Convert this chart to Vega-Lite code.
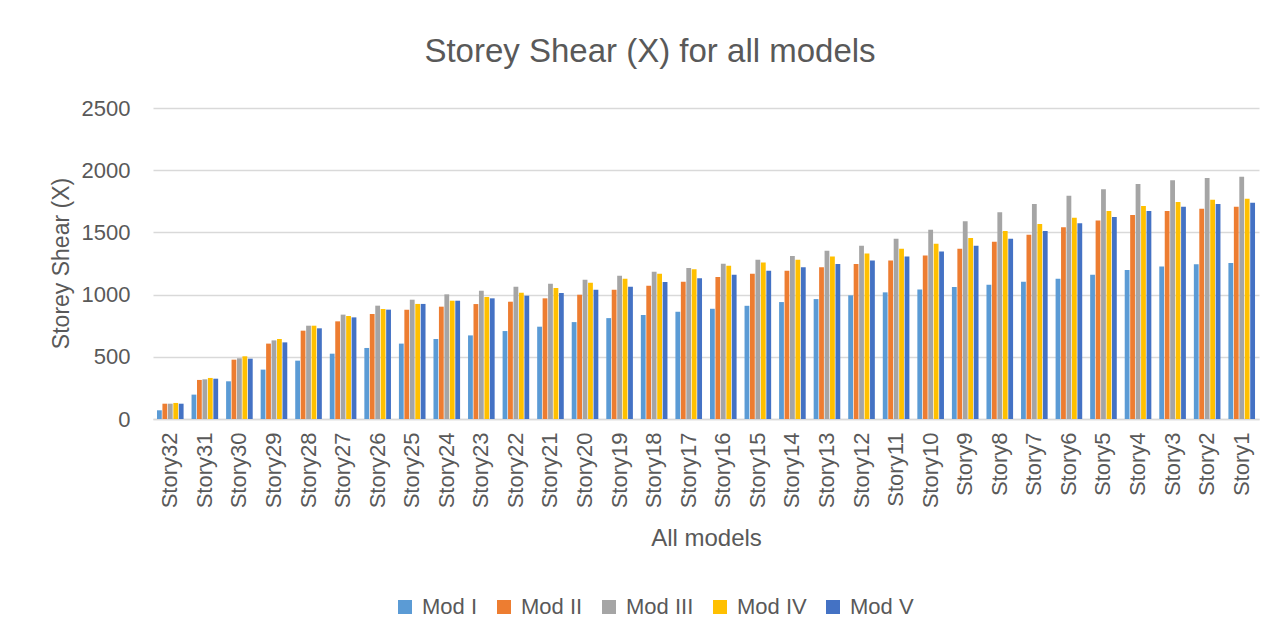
{
  "$schema": "https://vega.github.io/schema/vega-lite/v6.json",
  "autosize": {"type": "none"},
  "padding": {"left": 153, "top": 108, "right": 19, "bottom": 222},
  "width": 1106,
  "height": 311,
  "background": "white",
  "title": {
    "text": "Storey Shear (X) for all models",
    "font": "Liberation Sans",
    "fontSize": 33,
    "fontWeight": "normal",
    "color": "#595959",
    "anchor": "middle",
    "baseline": "alphabetic",
    "offset": 2,
    "dx": -56
  },
  "data": {
    "values": [
      {"story": "Story32", "model": "Mod I", "value": 70},
      {"story": "Story32", "model": "Mod II", "value": 123},
      {"story": "Story32", "model": "Mod III", "value": 123},
      {"story": "Story32", "model": "Mod IV", "value": 129},
      {"story": "Story32", "model": "Mod V", "value": 123},
      {"story": "Story31", "model": "Mod I", "value": 196},
      {"story": "Story31", "model": "Mod II", "value": 314},
      {"story": "Story31", "model": "Mod III", "value": 319},
      {"story": "Story31", "model": "Mod IV", "value": 330},
      {"story": "Story31", "model": "Mod V", "value": 324},
      {"story": "Story30", "model": "Mod I", "value": 303},
      {"story": "Story30", "model": "Mod II", "value": 477},
      {"story": "Story30", "model": "Mod III", "value": 488},
      {"story": "Story30", "model": "Mod IV", "value": 504},
      {"story": "Story30", "model": "Mod V", "value": 485},
      {"story": "Story29", "model": "Mod I", "value": 397},
      {"story": "Story29", "model": "Mod II", "value": 606},
      {"story": "Story29", "model": "Mod III", "value": 632},
      {"story": "Story29", "model": "Mod IV", "value": 643},
      {"story": "Story29", "model": "Mod V", "value": 616},
      {"story": "Story28", "model": "Mod I", "value": 469},
      {"story": "Story28", "model": "Mod II", "value": 710},
      {"story": "Story28", "model": "Mod III", "value": 750},
      {"story": "Story28", "model": "Mod IV", "value": 750},
      {"story": "Story28", "model": "Mod V", "value": 729},
      {"story": "Story27", "model": "Mod I", "value": 525},
      {"story": "Story27", "model": "Mod II", "value": 785},
      {"story": "Story27", "model": "Mod III", "value": 839},
      {"story": "Story27", "model": "Mod IV", "value": 828},
      {"story": "Story27", "model": "Mod V", "value": 817},
      {"story": "Story26", "model": "Mod I", "value": 571},
      {"story": "Story26", "model": "Mod II", "value": 844},
      {"story": "Story26", "model": "Mod III", "value": 911},
      {"story": "Story26", "model": "Mod IV", "value": 884},
      {"story": "Story26", "model": "Mod V", "value": 879},
      {"story": "Story25", "model": "Mod I", "value": 606},
      {"story": "Story25", "model": "Mod II", "value": 879},
      {"story": "Story25", "model": "Mod III", "value": 959},
      {"story": "Story25", "model": "Mod IV", "value": 925},
      {"story": "Story25", "model": "Mod V", "value": 925},
      {"story": "Story24", "model": "Mod I", "value": 643},
      {"story": "Story24", "model": "Mod II", "value": 903},
      {"story": "Story24", "model": "Mod III", "value": 1002},
      {"story": "Story24", "model": "Mod IV", "value": 951},
      {"story": "Story24", "model": "Mod V", "value": 951},
      {"story": "Story23", "model": "Mod I", "value": 672},
      {"story": "Story23", "model": "Mod II", "value": 924},
      {"story": "Story23", "model": "Mod III", "value": 1031},
      {"story": "Story23", "model": "Mod IV", "value": 981},
      {"story": "Story23", "model": "Mod V", "value": 970},
      {"story": "Story22", "model": "Mod I", "value": 707},
      {"story": "Story22", "model": "Mod II", "value": 943},
      {"story": "Story22", "model": "Mod III", "value": 1063},
      {"story": "Story22", "model": "Mod IV", "value": 1015},
      {"story": "Story22", "model": "Mod V", "value": 991},
      {"story": "Story21", "model": "Mod I", "value": 742},
      {"story": "Story21", "model": "Mod II", "value": 970},
      {"story": "Story21", "model": "Mod III", "value": 1088},
      {"story": "Story21", "model": "Mod IV", "value": 1053},
      {"story": "Story21", "model": "Mod V", "value": 1013},
      {"story": "Story20", "model": "Mod I", "value": 779},
      {"story": "Story20", "model": "Mod II", "value": 999},
      {"story": "Story20", "model": "Mod III", "value": 1120},
      {"story": "Story20", "model": "Mod IV", "value": 1096},
      {"story": "Story20", "model": "Mod V", "value": 1039},
      {"story": "Story19", "model": "Mod I", "value": 811},
      {"story": "Story19", "model": "Mod II", "value": 1039},
      {"story": "Story19", "model": "Mod III", "value": 1152},
      {"story": "Story19", "model": "Mod IV", "value": 1128},
      {"story": "Story19", "model": "Mod V", "value": 1063},
      {"story": "Story18", "model": "Mod I", "value": 836},
      {"story": "Story18", "model": "Mod II", "value": 1072},
      {"story": "Story18", "model": "Mod III", "value": 1184},
      {"story": "Story18", "model": "Mod IV", "value": 1168},
      {"story": "Story18", "model": "Mod V", "value": 1101},
      {"story": "Story17", "model": "Mod I", "value": 862},
      {"story": "Story17", "model": "Mod II", "value": 1104},
      {"story": "Story17", "model": "Mod III", "value": 1214},
      {"story": "Story17", "model": "Mod IV", "value": 1203},
      {"story": "Story17", "model": "Mod V", "value": 1131},
      {"story": "Story16", "model": "Mod I", "value": 886},
      {"story": "Story16", "model": "Mod II", "value": 1141},
      {"story": "Story16", "model": "Mod III", "value": 1248},
      {"story": "Story16", "model": "Mod IV", "value": 1232},
      {"story": "Story16", "model": "Mod V", "value": 1160},
      {"story": "Story15", "model": "Mod I", "value": 910},
      {"story": "Story15", "model": "Mod II", "value": 1168},
      {"story": "Story15", "model": "Mod III", "value": 1280},
      {"story": "Story15", "model": "Mod IV", "value": 1259},
      {"story": "Story15", "model": "Mod V", "value": 1192},
      {"story": "Story14", "model": "Mod I", "value": 940},
      {"story": "Story14", "model": "Mod II", "value": 1192},
      {"story": "Story14", "model": "Mod III", "value": 1310},
      {"story": "Story14", "model": "Mod IV", "value": 1280},
      {"story": "Story14", "model": "Mod V", "value": 1219},
      {"story": "Story13", "model": "Mod I", "value": 964},
      {"story": "Story13", "model": "Mod II", "value": 1219},
      {"story": "Story13", "model": "Mod III", "value": 1353},
      {"story": "Story13", "model": "Mod IV", "value": 1307},
      {"story": "Story13", "model": "Mod V", "value": 1246},
      {"story": "Story12", "model": "Mod I", "value": 994},
      {"story": "Story12", "model": "Mod II", "value": 1246},
      {"story": "Story12", "model": "Mod III", "value": 1393},
      {"story": "Story12", "model": "Mod IV", "value": 1331},
      {"story": "Story12", "model": "Mod V", "value": 1275},
      {"story": "Story11", "model": "Mod I", "value": 1018},
      {"story": "Story11", "model": "Mod II", "value": 1275},
      {"story": "Story11", "model": "Mod III", "value": 1449},
      {"story": "Story11", "model": "Mod IV", "value": 1369},
      {"story": "Story11", "model": "Mod V", "value": 1307},
      {"story": "Story10", "model": "Mod I", "value": 1040},
      {"story": "Story10", "model": "Mod II", "value": 1315},
      {"story": "Story10", "model": "Mod III", "value": 1522},
      {"story": "Story10", "model": "Mod IV", "value": 1409},
      {"story": "Story10", "model": "Mod V", "value": 1347},
      {"story": "Story9", "model": "Mod I", "value": 1061},
      {"story": "Story9", "model": "Mod II", "value": 1369},
      {"story": "Story9", "model": "Mod III", "value": 1589},
      {"story": "Story9", "model": "Mod IV", "value": 1455},
      {"story": "Story9", "model": "Mod V", "value": 1393},
      {"story": "Story8", "model": "Mod I", "value": 1080},
      {"story": "Story8", "model": "Mod II", "value": 1425},
      {"story": "Story8", "model": "Mod III", "value": 1661},
      {"story": "Story8", "model": "Mod IV", "value": 1511},
      {"story": "Story8", "model": "Mod V", "value": 1449},
      {"story": "Story7", "model": "Mod I", "value": 1104},
      {"story": "Story7", "model": "Mod II", "value": 1482},
      {"story": "Story7", "model": "Mod III", "value": 1728},
      {"story": "Story7", "model": "Mod IV", "value": 1568},
      {"story": "Story7", "model": "Mod V", "value": 1511},
      {"story": "Story6", "model": "Mod I", "value": 1128},
      {"story": "Story6", "model": "Mod II", "value": 1541},
      {"story": "Story6", "model": "Mod III", "value": 1795},
      {"story": "Story6", "model": "Mod IV", "value": 1618},
      {"story": "Story6", "model": "Mod V", "value": 1573},
      {"story": "Story5", "model": "Mod I", "value": 1160},
      {"story": "Story5", "model": "Mod II", "value": 1595},
      {"story": "Story5", "model": "Mod III", "value": 1846},
      {"story": "Story5", "model": "Mod IV", "value": 1672},
      {"story": "Story5", "model": "Mod V", "value": 1624},
      {"story": "Story4", "model": "Mod I", "value": 1198},
      {"story": "Story4", "model": "Mod II", "value": 1640},
      {"story": "Story4", "model": "Mod III", "value": 1889},
      {"story": "Story4", "model": "Mod IV", "value": 1712},
      {"story": "Story4", "model": "Mod V", "value": 1672},
      {"story": "Story3", "model": "Mod I", "value": 1225},
      {"story": "Story3", "model": "Mod II", "value": 1672},
      {"story": "Story3", "model": "Mod III", "value": 1919},
      {"story": "Story3", "model": "Mod IV", "value": 1745},
      {"story": "Story3", "model": "Mod V", "value": 1707},
      {"story": "Story2", "model": "Mod I", "value": 1243},
      {"story": "Story2", "model": "Mod II", "value": 1691},
      {"story": "Story2", "model": "Mod III", "value": 1938},
      {"story": "Story2", "model": "Mod IV", "value": 1763},
      {"story": "Story2", "model": "Mod V", "value": 1729},
      {"story": "Story1", "model": "Mod I", "value": 1254},
      {"story": "Story1", "model": "Mod II", "value": 1707},
      {"story": "Story1", "model": "Mod III", "value": 1948},
      {"story": "Story1", "model": "Mod IV", "value": 1771},
      {"story": "Story1", "model": "Mod V", "value": 1739}
    ]
  },
  "mark": {"type": "bar"},
  "encoding": {
    "x": {
      "field": "story",
      "type": "nominal",
      "sort": null,
      "scale": {"paddingInner": 0.23, "paddingOuter": 0.115},
      "axis": {
        "title": "All models",
        "titleFont": "Liberation Sans",
        "titleFontSize": 24,
        "titleFontWeight": "normal",
        "titleColor": "#595959",
        "titleBaseline": "alphabetic",
        "titleY": 126,
        "labelAngle": -90,
        "labelFont": "Liberation Sans",
        "labelFontSize": 22,
        "labelColor": "#595959",
        "labelPadding": 13,
        "ticks": false,
        "domainColor": "#D9D9D9",
        "domainWidth": 1.3
      }
    },
    "xOffset": {
      "field": "model",
      "type": "nominal",
      "sort": null,
      "scale": {"paddingInner": 0.12}
    },
    "y": {
      "field": "value",
      "type": "quantitative",
      "scale": {"domain": [0, 2500], "nice": false},
      "axis": {
        "title": "Storey Shear (X)",
        "titleFont": "Liberation Sans",
        "titleFontSize": 23,
        "titleFontWeight": "normal",
        "titleColor": "#595959",
        "titleBaseline": "alphabetic",
        "titleX": -85,
        "titleY": 155,
        "values": [0, 500, 1000, 1500, 2000, 2500],
        "format": "d",
        "labelFont": "Liberation Sans",
        "labelFontSize": 22,
        "labelColor": "#595959",
        "labelPadding": 23,
        "ticks": false,
        "domain": false,
        "gridColor": "#D9D9D9",
        "gridWidth": 1.3
      }
    },
    "color": {
      "field": "model",
      "type": "nominal",
      "scale": {
        "domain": ["Mod I", "Mod II", "Mod III", "Mod IV", "Mod V"],
        "range": ["#5B9BD5", "#ED7D31", "#A5A5A5", "#FFC000", "#4472C4"]
      },
      "legend": {
        "title": null,
        "orient": "none",
        "direction": "horizontal",
        "legendX": 241,
        "legendY": 488,
        "symbolType": "square",
        "symbolSize": 196,
        "symbolStrokeWidth": 0,
        "labelFont": "Liberation Sans",
        "labelFontSize": 22,
        "labelColor": "#595959",
        "labelOffset": 6,
        "columnPadding": 15
      }
    }
  },
  "config": {
    "view": {"stroke": null}
  }
}
